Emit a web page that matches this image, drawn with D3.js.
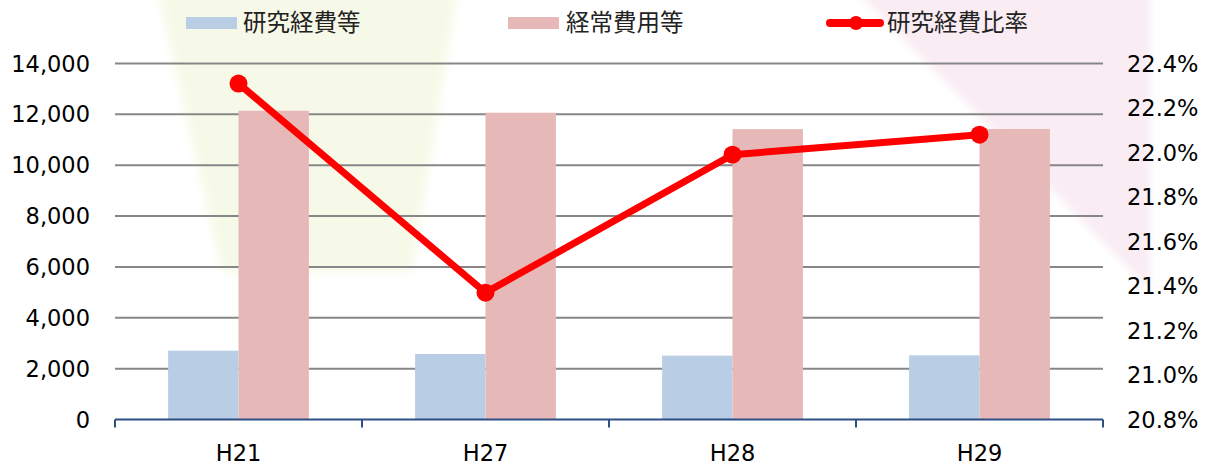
<!DOCTYPE html>
<html>
<head>
<meta charset="utf-8">
<script src="https://cdn.jsdelivr.net/npm/d3@7"></script>
<style>
  html, body { margin: 0; padding: 0; background: #fff; }
  svg { display: block; }
</style>
</head>
<body>
<svg id="chart" width="1217" height="465"></svg>
<script>
const categories = ["H21", "H27", "H28", "H29"];
const researchCost = [2705, 2576, 2511, 2522];
const ordinaryCost = [12143, 12065, 11420, 11425];
const researchRatio = [22.31, 21.37, 21.99, 22.08];
const leftTicks = [0, 2000, 4000, 6000, 8000, 10000, 12000, 14000];
const rightTicks = [20.8, 21.0, 21.2, 21.4, 21.6, 21.8, 22.0, 22.2, 22.4];
const seriesNames = ["研究経費等", "経常費用等", "研究経費比率"];

const svg = d3.select("#chart");
const m = { left: 115, right: 1103, top: 63.5, bottom: 419.5 };
const numFont = "'DejaVu Sans', Verdana, sans-serif";
const cjkFont = "'Noto Sans CJK JP', sans-serif";
const numSize = 22.5;

// decorative background
const defs = svg.append("defs");
const f = defs.append("filter").attr("id", "blur").attr("x", "-20%").attr("y", "-20%").attr("width", "140%").attr("height", "140%");
f.append("feGaussianBlur").attr("stdDeviation", 4);
svg.append("polygon")
  .attr("points", "157,-10 458,-10 412,272 222,272")
  .attr("fill", "#f7f9e8").attr("filter", "url(#blur)");
svg.append("polygon")
  .attr("points", "855,-10 1150,-10 1150,290")
  .attr("fill", "#f9ecf3").attr("filter", "url(#blur)");

const x = d3.scaleBand().domain(categories).range([m.left, m.right]).paddingInner(0.43).paddingOuter(0.215);
const xb = d3.scaleBand().domain([0, 1]).range([0, x.bandwidth()]);
const xc = d3.scalePoint().domain(categories).range([m.left, m.right]).padding(0.5);
const yL = d3.scaleLinear().domain([0, 14000]).range([m.bottom, m.top]);
const yR = d3.scaleLinear().domain([20.8, 22.4]).range([m.bottom, m.top]);

// gridlines
svg.append("g").selectAll("line").data(leftTicks.filter(d => d > 0)).join("line")
  .attr("x1", m.left).attr("x2", m.right)
  .attr("y1", d => yL(d)).attr("y2", d => yL(d))
  .attr("stroke", "#878787").attr("stroke-width", 2);

// left labels
svg.append("g").selectAll("text").data(leftTicks).join("text")
  .attr("x", 90).attr("y", d => yL(d)).attr("dy", "0.36em")
  .attr("text-anchor", "end")
  .attr("font-family", numFont).attr("font-size", numSize).attr("fill", "#000")
  .text(d => d3.format(",")(d));

// right labels
svg.append("g").selectAll("text").data(rightTicks).join("text")
  .attr("x", 1127).attr("y", d => yR(d)).attr("dy", "0.36em")
  .attr("text-anchor", "start")
  .attr("font-family", numFont).attr("font-size", numSize).attr("fill", "#000")
  .text(d => d.toFixed(1) + "%");

// bars
const g = svg.append("g");
g.selectAll("rect.b").data(researchCost).join("rect").attr("class", "b")
  .attr("x", (d, i) => x(categories[i]) + xb(0))
  .attr("width", xb.bandwidth())
  .attr("y", d => yL(d)).attr("height", d => yL(0) - yL(d))
  .attr("fill", "#b9cde5");
g.selectAll("rect.p").data(ordinaryCost).join("rect").attr("class", "p")
  .attr("x", (d, i) => x(categories[i]) + xb(1))
  .attr("width", xb.bandwidth())
  .attr("y", d => yL(d)).attr("height", d => yL(0) - yL(d))
  .attr("fill", "#e6b9b8");

// x axis
const ax = svg.append("g").attr("transform", `translate(0,${m.bottom})`);
ax.append("line").attr("x1", m.left).attr("x2", m.right).attr("y1", 0).attr("y2", 0)
  .attr("stroke", "#2c4f86").attr("stroke-width", 2);
const tickXs = d3.range(categories.length + 1).map(i => m.left + i * x.step());
ax.selectAll("line.t").data(tickXs).join("line").attr("class", "t")
  .attr("x1", d => d).attr("x2", d => d).attr("y1", 0).attr("y2", 8)
  .attr("stroke", "#2c4f86").attr("stroke-width", 2);
ax.selectAll("text").data(categories).join("text")
  .attr("x", d => xc(d)).attr("y", 41)
  .attr("text-anchor", "middle")
  .attr("font-family", numFont).attr("font-size", numSize).attr("fill", "#000")
  .text(d => d);

// line
const line = d3.line().x((d, i) => xc(categories[i])).y(d => yR(d));
svg.append("path").datum(researchRatio)
  .attr("d", line).attr("fill", "none")
  .attr("stroke", "#ff0000").attr("stroke-width", 7).attr("stroke-linejoin", "round");
svg.append("g").selectAll("circle").data(researchRatio).join("circle")
  .attr("cx", (d, i) => xc(categories[i])).attr("cy", d => yR(d))
  .attr("r", 9).attr("fill", "#ff0000");

// legend
const lg = svg.append("g");
lg.append("rect").attr("x", 186).attr("y", 17).attr("width", 51).attr("height", 12).attr("fill", "#b9cde5");
lg.append("text").attr("x", 243).attr("y", 31).attr("font-family", cjkFont).attr("font-size", 23.5).attr("fill", "#222").text(seriesNames[0]);
lg.append("rect").attr("x", 508).attr("y", 17).attr("width", 51).attr("height", 12).attr("fill", "#e6b9b8");
lg.append("text").attr("x", 566).attr("y", 31).attr("font-family", cjkFont).attr("font-size", 23.5).attr("fill", "#222").text(seriesNames[1]);
lg.append("line").attr("x1", 830).attr("x2", 880).attr("y1", 23).attr("y2", 23)
  .attr("stroke", "#ff0000").attr("stroke-width", 8).attr("stroke-linecap", "round");
lg.append("circle").attr("cx", 856).attr("cy", 23).attr("r", 7).attr("fill", "#ff0000");
lg.append("text").attr("x", 887).attr("y", 31).attr("font-family", cjkFont).attr("font-size", 23.5).attr("fill", "#222").text(seriesNames[2]);
</script>
</body>
</html>
